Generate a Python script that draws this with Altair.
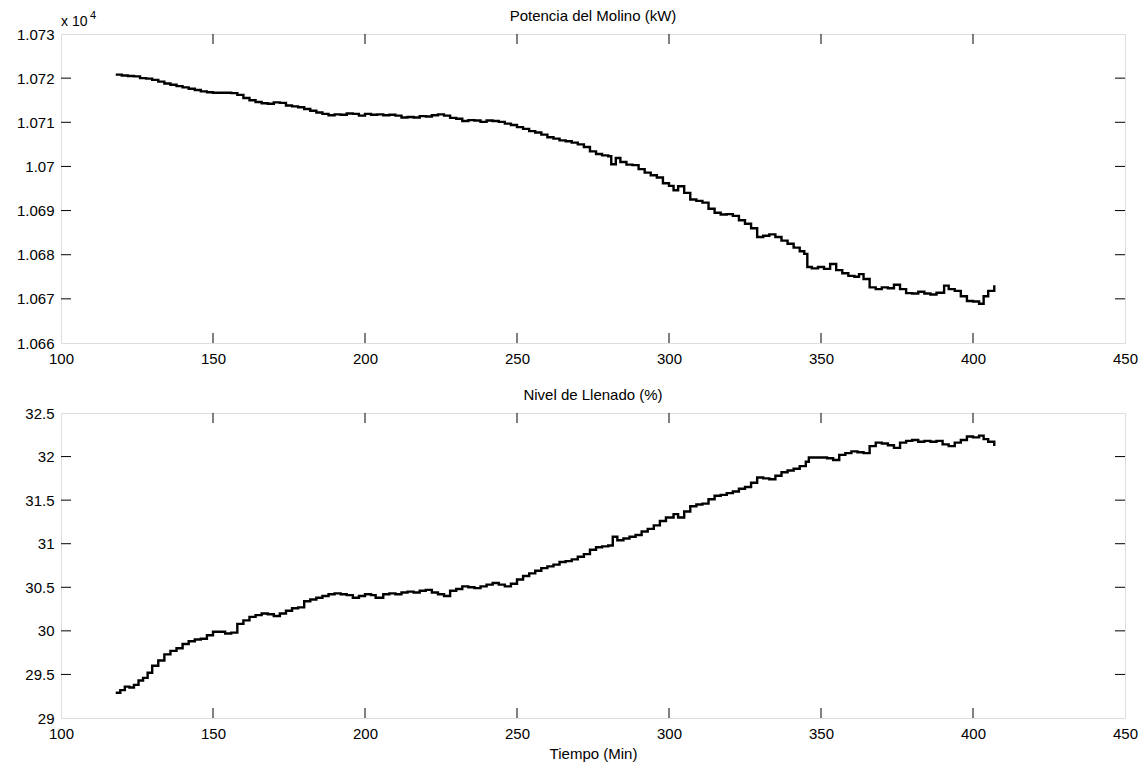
import altair as alt
import pandas as pd

# ---------------- data ----------------
t_pot = [118, 120, 122, 124, 126, 128, 130, 132, 134, 136, 138, 140, 142, 144, 146, 148,
         150, 152, 154, 156, 158, 160, 162, 164, 166, 168, 170, 172, 174, 176, 178, 180,
         182, 184, 186, 188, 190, 192, 194, 196, 198, 200, 202, 204, 206, 208, 210, 212,
         214, 216, 218, 220, 222, 224, 226, 228, 230, 232, 234, 236, 238, 240, 242, 244,
         246, 248, 250, 252, 254, 256, 258, 260, 262, 264, 266, 268, 270, 272, 274, 276,
         278, 280, 281, 282.5, 284, 286, 288, 290, 292, 294, 296, 298, 300, 301.5, 303, 305,
         307, 309, 311, 313, 315, 317, 319, 321, 323, 325, 327, 329, 331, 333, 335, 337,
         339, 341, 343, 344.5, 345.5, 347, 349, 351, 353, 355, 357, 359, 361, 362.5, 364, 366,
         368, 370, 372, 374, 376, 378, 380, 382, 384, 386, 388, 390.5, 392, 394, 396, 398,
         400, 402, 403.5, 405, 407]
v_pot = [10720.8, 10720.6, 10720.5, 10720.4, 10720.0, 10719.9, 10719.6, 10719.2, 10718.8, 10718.5,
         10718.2, 10717.9, 10717.6, 10717.3, 10717.0, 10716.8, 10716.7, 10716.7, 10716.7, 10716.6,
         10716.2, 10715.5, 10715.0, 10714.6, 10714.3, 10714.2, 10714.5, 10714.4, 10713.8, 10713.6,
         10713.4, 10713.0, 10712.6, 10712.2, 10711.9, 10711.6, 10711.8, 10711.7, 10712.0, 10711.9,
         10711.5, 10711.9, 10711.7, 10711.8, 10711.6, 10711.7, 10711.5, 10711.1, 10711.2, 10711.1,
         10711.4, 10711.3, 10711.6, 10711.8, 10711.5, 10711.0, 10710.8, 10710.3, 10710.5, 10710.4,
         10710.1, 10710.4, 10710.3, 10710.1, 10709.7, 10709.4, 10708.9, 10708.5, 10708.0, 10707.7,
         10707.2, 10706.6, 10706.3, 10705.9, 10705.7, 10705.4, 10705.0, 10704.4, 10703.4, 10702.8,
         10702.5, 10702.3, 10700.5, 10701.9, 10701.0, 10700.4, 10700.3, 10699.4, 10698.6, 10698.0,
         10697.5, 10696.2, 10695.6, 10694.6, 10695.5, 10694.0, 10692.5, 10692.2, 10691.8, 10690.4,
         10689.5, 10689.1, 10689.2, 10688.8, 10687.8, 10687.0, 10686.0, 10684.0, 10684.3, 10684.6,
         10684.0, 10683.2, 10682.5, 10681.6, 10680.8, 10680.2, 10677.2, 10676.9, 10677.2, 10676.8,
         10677.9, 10676.5, 10675.8, 10675.2, 10675.0, 10675.6, 10674.5, 10672.6, 10672.2, 10672.6,
         10672.4, 10673.2, 10672.2, 10671.3, 10671.2, 10671.6, 10671.2, 10671.0, 10671.4, 10673.0,
         10672.2, 10671.8, 10670.6, 10669.5, 10669.4, 10668.9, 10670.6, 10671.8, 10673.1]

t_niv = [118, 119.5, 121, 122.5, 124, 125.5, 127, 128.5, 130, 132, 134, 136, 138, 140, 142, 144,
         146, 148, 150, 152, 154, 156, 158, 160, 162, 164, 166, 168, 170, 172, 174, 176,
         178, 180, 182, 184, 186, 188, 190, 192, 194, 196, 198, 200, 202, 203.5, 206, 208,
         210, 212, 214, 216, 218, 220, 222, 224, 226, 228, 230, 232, 234, 236, 238, 240,
         242, 244, 246, 248, 250, 252, 254, 256, 258, 260, 262, 264, 266, 268, 270, 272,
         274, 276, 278, 280, 281.5, 283, 285, 287, 289, 291, 293, 295, 297, 299, 301.5, 303,
         305, 307, 309, 311, 313, 315, 317, 319, 321, 323, 325, 327, 329, 331, 333, 335,
         337, 339, 341, 343, 345, 346, 348, 350, 352, 354, 356, 358, 360, 362, 364, 366,
         368, 370, 372, 374, 376, 378, 380, 382, 384, 386, 388, 390, 392, 394, 396, 398,
         400, 402, 403.5, 405, 407]
v_niv = [29.29, 29.32, 29.36, 29.35, 29.38, 29.43, 29.46, 29.52, 29.60, 29.66, 29.73, 29.77,
         29.80, 29.85, 29.88, 29.90, 29.91, 29.95, 29.99, 29.99, 29.97, 29.98, 30.08, 30.12,
         30.16, 30.18, 30.20, 30.19, 30.17, 30.20, 30.23, 30.26, 30.27, 30.34, 30.36, 30.38,
         30.40, 30.42, 30.43, 30.42, 30.41, 30.38, 30.40, 30.42, 30.41, 30.38, 30.42, 30.43,
         30.42, 30.44, 30.45, 30.44, 30.46, 30.47, 30.44, 30.42, 30.40, 30.46, 30.48, 30.51,
         30.50, 30.49, 30.51, 30.53, 30.55, 30.53, 30.51, 30.54, 30.59, 30.63, 30.66, 30.69,
         30.72, 30.74, 30.76, 30.79, 30.80, 30.82, 30.85, 30.88, 30.93, 30.96, 30.97, 30.98,
         31.08, 31.04, 31.06, 31.08, 31.10, 31.14, 31.17, 31.21, 31.26, 31.30, 31.34, 31.30,
         31.37, 31.43, 31.45, 31.46, 31.51, 31.55, 31.56, 31.58, 31.60, 31.63, 31.65, 31.70,
         31.76, 31.75, 31.74, 31.78, 31.82, 31.84, 31.86, 31.89, 31.94, 31.99, 31.99, 31.99,
         31.98, 31.96, 32.02, 32.04, 32.06, 32.05, 32.04, 32.12, 32.16, 32.15, 32.13, 32.10,
         32.16, 32.18, 32.19, 32.17, 32.18, 32.17, 32.18, 32.14, 32.12, 32.16, 32.19, 32.23,
         32.22, 32.24, 32.20, 32.17, 32.12]

x_ticks = [100, 150, 200, 250, 300, 350, 400, 450]
pot_ticks = [10660, 10670, 10680, 10690, 10700, 10710, 10720, 10730]
niv_ticks = [29, 29.5, 30, 30.5, 31, 31.5, 32, 32.5]

title_pot = "Potencia del Molino (kW)"
title_niv = "Nivel de Llenado (%)"
x_title = "Tiempo (Min)"

# ---------------- styling ----------------
FONT = "Liberation Sans"
FS = 15
W = 1064
H1 = 309
H2 = 305
TICK = 10


def panel(t, v, ydom, yticks, title, H, xtitle, ylabel_expr=None, yformat=None, extra=()):
    df = pd.DataFrame({"t": t, "v": v})
    xs = alt.Scale(domain=[100, 450], nice=False, zero=False)
    ys = alt.Scale(domain=ydom, nice=False, zero=False)
    xaxis_kw = dict(values=x_ticks, format="d", labelFlush=False, labelOverlap=False,
                    ticks=False, tickSize=0, domain=False, grid=False, labelPadding=8,
                    labelFont=FONT, labelFontSize=FS, labelColor="black",
                    titleFont=FONT, titleFontSize=FS, titleFontWeight="normal",
                    titleColor="black", titlePadding=5)
    xaxis = alt.Axis(title=xtitle, **xaxis_kw) if xtitle else alt.Axis(title=None, **xaxis_kw)
    yaxis_kw = dict(values=yticks, labelFlush=False, labelOverlap=False, ticks=False,
                    tickSize=0, domain=False, grid=False, labelPadding=7,
                    labelFont=FONT, labelFontSize=FS, labelColor="black",
                    minExtent=52, maxExtent=52, title=None)
    if ylabel_expr:
        yaxis_kw["labelExpr"] = ylabel_expr
    if yformat:
        yaxis_kw["format"] = yformat
    yaxis = alt.Axis(**yaxis_kw)

    line = alt.Chart(df).mark_line(color="black", strokeWidth=2.4,
                                   interpolate="step-after").encode(
        x=alt.X("t:Q", scale=xs, axis=xaxis),
        y=alt.Y("v:Q", scale=ys, axis=yaxis),
    )
    xt = pd.DataFrame({"t": x_ticks[1:-1]})
    yt = pd.DataFrame({"v": yticks[1:-1]})
    xb = alt.Chart(xt).mark_rule(color="black", strokeWidth=1).encode(
        x=alt.X("t:Q", scale=xs), y=alt.value(H), y2=alt.value(H - TICK))
    xtop = alt.Chart(xt).mark_rule(color="black", strokeWidth=1).encode(
        x=alt.X("t:Q", scale=xs), y=alt.value(0), y2=alt.value(TICK))
    yl = alt.Chart(yt).mark_rule(color="black", strokeWidth=1).encode(
        y=alt.Y("v:Q", scale=ys), x=alt.value(0), x2=alt.value(TICK))
    yr = alt.Chart(yt).mark_rule(color="black", strokeWidth=1).encode(
        y=alt.Y("v:Q", scale=ys), x=alt.value(W), x2=alt.value(W - TICK))
    ttl = alt.Chart(pd.DataFrame({"s": [title]})).mark_text(
        font=FONT, fontSize=FS, color="black", align="center", baseline="middle"
    ).encode(text="s:N", x=alt.value(W / 2), y=alt.value(-18))
    return alt.layer(line, xb, xtop, yl, yr, ttl, *extra).properties(width=W, height=H)


exp_base = alt.Chart(pd.DataFrame({"s": ["x 10"]})).mark_text(
    font=FONT, fontSize=14, color="black", align="left", baseline="alphabetic"
).encode(text="s:N", x=alt.value(0), y=alt.value(-8))
exp_sup = alt.Chart(pd.DataFrame({"s": ["4"]})).mark_text(
    font=FONT, fontSize=11, color="black", align="left", baseline="alphabetic"
).encode(text="s:N", x=alt.value(29), y=alt.value(-15))

top = panel(t_pot, v_pot, [10660, 10730], pot_ticks, title_pot, H1, None,
            ylabel_expr="format(datum.value / 10000, '.3~f')", extra=(exp_base, exp_sup))
bottom = panel(t_niv, v_niv, [29, 32.5], niv_ticks, title_niv, H2, x_title, yformat="~g")

chart = alt.vconcat(top, bottom, spacing=70).properties(
    padding=0, bounds="flush"
).configure_view(stroke="black", strokeWidth=1).configure(background="white")

chart.save("out.html", embed_options={"renderer": "svg", "actions": False})
